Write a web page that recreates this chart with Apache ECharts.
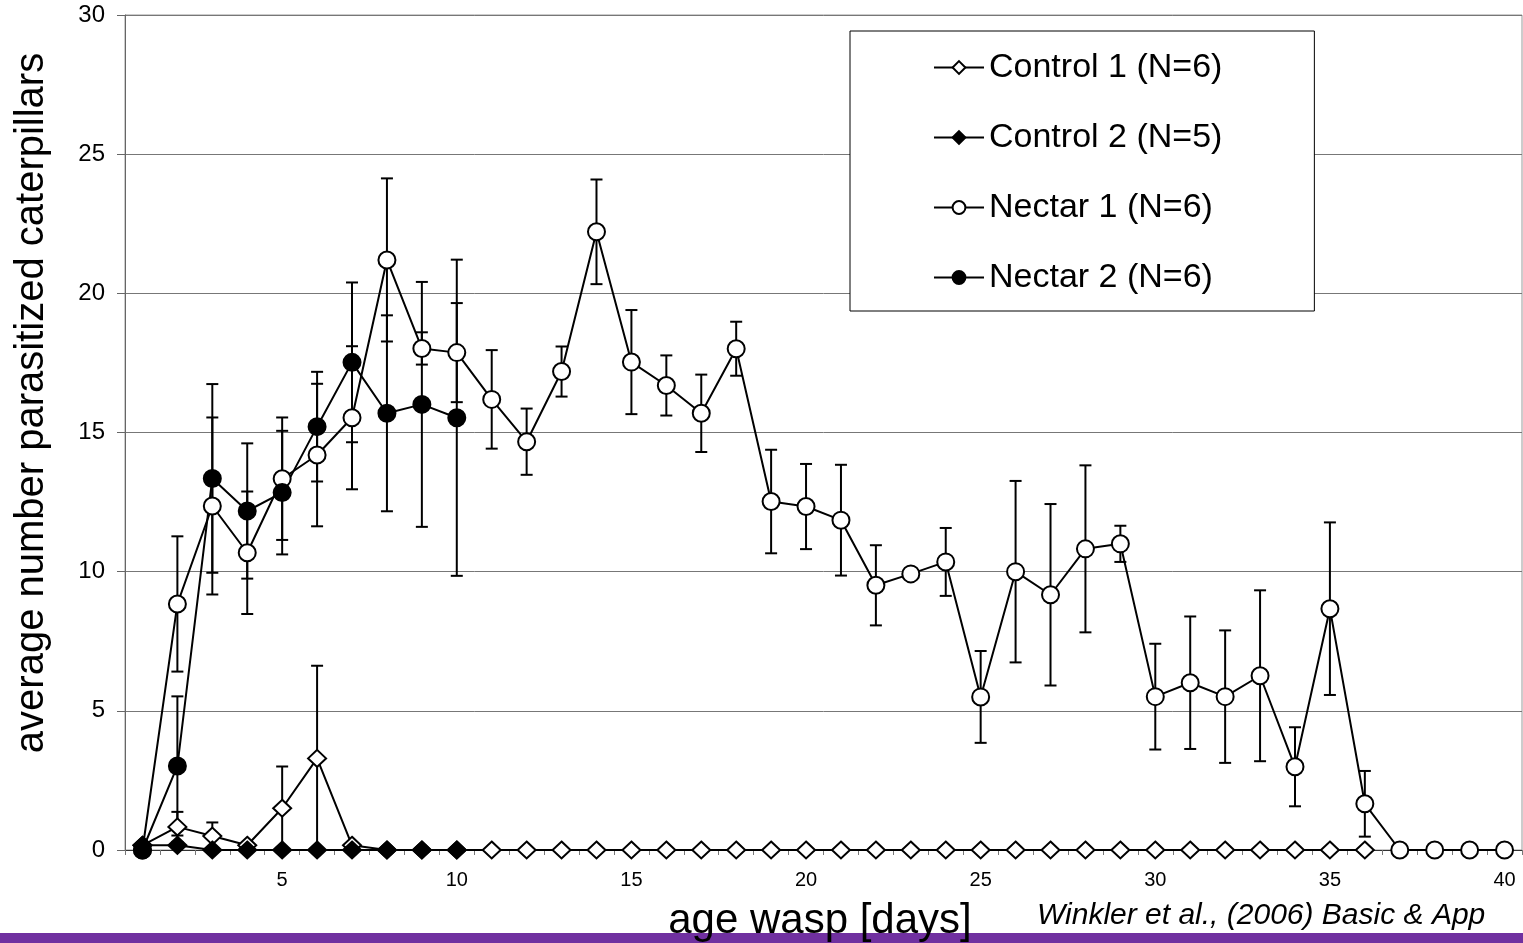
<!DOCTYPE html>
<html>
<head>
<meta charset="utf-8">
<title>age wasp</title>
<script src="https://cdn.jsdelivr.net/npm/echarts@6.0.0/dist/echarts.min.js"></script>
<style>
  html, body { margin: 0; padding: 0; background: #fff; }
  #main { width: 1523px; height: 943px; }
</style>
</head>
<body>
<div id="main"></div>
<script>
var days = ['1','2','3','4','5','6','7','8','9','10',
            '11','12','13','14','15','16','17','18','19','20',
            '21','22','23','24','25','26','27','28','29','30',
            '31','32','33','34','35','36','37','38','39','40'];

var control1 = [0.17, 0.83, 0.5, 0.17, 1.5, 3.29, 0.17, 0, 0, 0,
                0, 0, 0, 0, 0, 0, 0, 0, 0, 0,
                0, 0, 0, 0, 0, 0, 0, 0, 0, 0,
                0, 0, 0, 0, 0, 0, null, null, null, null];
var control1Err = [0, 0.54, 0.49, 0, 1.5, 3.33, 0, 0, 0, 0];

var control2 = [0.17, 0.17, 0, 0, 0, 0, 0, 0, 0, 0];
var control2Err = [0, 0, 0, 0, 0, 0, 0, 0, 0, 0];

var nectar1 = [0, 8.84, 12.36, 10.68, 13.34, 14.19, 15.53, 21.2, 18.02, 17.87,
               16.19, 14.67, 17.19, 22.21, 17.53, 16.69, 15.69, 18.01, 12.52, 12.34,
               11.85, 9.51, 9.92, 10.35, 5.5, 10.0, 9.17, 10.82, 11.0, 5.51,
               6.01, 5.51, 6.26, 2.99, 8.67, 1.66, 0, 0, 0, 0];
var nectar1Err = [0, 2.43, 3.18, 2.2, 2.2, 2.56, 2.57, 2.93, 0.58, 1.78,
                  1.77, 1.19, 0.9, 1.88, 1.87, 1.08, 1.39, 0.97, 1.86, 1.53,
                  1.99, 1.44, 0, 1.22, 1.65, 3.26, 3.26, 3.0, 0.65, 1.9,
                  2.38, 2.38, 3.07, 1.42, 3.1, 1.18, 0, 0, 0, 0];

var nectar2 = [0, 3.02, 13.35, 12.18, 12.84, 15.21, 17.52, 15.69, 16.01, 15.53];
var nectar2Err = [0, 2.5, 3.39, 2.43, 2.22, 1.97, 2.87, 3.52, 4.4, 5.68];

var seriesNames = ['Control 1 (N=6)', 'Control 2 (N=5)', 'Nectar 1 (N=6)', 'Nectar 2 (N=6)'];

var yTitle = 'average number parasitized caterpillars';
var xTitle = 'age wasp [days]';
var citation = 'Winkler et al., (2006) Basic & App';

var FONT = '"Liberation Sans", Arial, sans-serif';

// [index, low, high] for every point that has a bar
var errData = function (means, errs) {
    var res = [];
    for (var i = 0; i < errs.length; i++) {
        if (errs[i] > 0 && means[i] != null) {
            res.push([i, means[i] - errs[i], means[i] + errs[i]]);
        }
    }
    return res;
};

var renderErr = function (params, api) {
    var top = api.coord([api.value(0), api.value(2)]);
    var bot = api.coord([api.value(0), Math.max(0, api.value(1))]);
    var hw = 6;
    var st = { stroke: '#000', lineWidth: 2 };
    return {
        type: 'group',
        children: [
            { type: 'line', shape: { x1: top[0], y1: top[1], x2: bot[0], y2: bot[1] }, style: st },
            { type: 'line', shape: { x1: top[0] - hw, y1: top[1], x2: top[0] + hw, y2: top[1] }, style: st },
            { type: 'line', shape: { x1: bot[0] - hw, y1: bot[1], x2: bot[0] + hw, y2: bot[1] }, style: st }
        ]
    };
};

var errSeries = function (means, errs) {
    return {
        type: 'custom',
        renderItem: renderErr,
        data: errData(means, errs),
        encode: { x: 0, y: [1, 2] },
        silent: true,
        z: 1
    };
};

var lineSeries = function (name, data, symbol, size, fill) {
    return {
        name: name,
        type: 'line',
        data: data,
        symbol: symbol,
        symbolSize: size,
        showAllSymbol: true,
        lineStyle: { color: '#000', width: 2 },
        itemStyle: { color: fill, borderColor: '#000', borderWidth: 2 },
        z: 2
    };
};

var myChart = echarts.init(document.getElementById('main'));

var option = {
    animation: false,
    backgroundColor: '#fff',
    textStyle: { fontFamily: FONT },
    grid: {
        left: 125, right: 1, top: 15, bottom: 93,
        show: true, borderColor: '#999', borderWidth: 1
    },
    legend: {
        data: seriesNames,
        orient: 'vertical',
        left: 850, top: 31,
        padding: [19, 92, 16, 83],
        itemGap: 35,
        itemWidth: 50,
        itemHeight: 16,
        backgroundColor: '#fff',
        borderColor: '#000',
        borderWidth: 1,
        borderRadius: 0,
        textStyle: { fontSize: 34, lineHeight: 35, color: '#000', fontFamily: FONT }
    },
    xAxis: {
        type: 'category',
        data: days,
        boundaryGap: true,
        axisLine: { lineStyle: { color: '#333', width: 1 } },
        axisTick: { show: true, interval: 0, length: 5, lineStyle: { color: '#777' } },
        axisLabel: {
            interval: function (i) { return (i + 1) % 5 === 0; },
            fontSize: 20, color: '#000', margin: 20, fontFamily: FONT
        },
        splitLine: { show: false }
    },
    yAxis: {
        type: 'value',
        min: 0, max: 30, interval: 5,
        axisLine: { show: true, lineStyle: { color: '#666', width: 1 } },
        axisTick: { show: true, length: 8, lineStyle: { color: '#666' } },
        axisLabel: { fontSize: 24, color: '#000', margin: 20, fontFamily: FONT },
        splitLine: { lineStyle: { color: '#777', width: 1 } }
    },
    graphic: [
        {   // purple strip along the bottom
            type: 'rect', left: 0, top: 933, z: 10,
            shape: { width: 1523, height: 10 },
            style: { fill: '#7030a0' }
        },
        {
            type: 'text', x: 32, y: 403, rotation: Math.PI / 2, z: 11,
            style: { text: yTitle, fontSize: 40, fontFamily: FONT, fill: '#000',
                     align: 'center', verticalAlign: 'middle' }
        },
        {
            type: 'text', x: 820, y: 942, z: 11,
            style: { text: xTitle, fontSize: 42, fontFamily: FONT, fill: '#000',
                     align: 'center', verticalAlign: 'bottom' }
        },
        {
            type: 'text', x: 1037, y: 931, z: 11,
            style: { text: citation, fontSize: 30, fontStyle: 'italic', fontFamily: FONT,
                     fill: '#000', align: 'left', verticalAlign: 'bottom' }
        }
    ],
    series: [
        errSeries(control1, control1Err),
        errSeries(control2, control2Err),
        errSeries(nectar1, nectar1Err),
        errSeries(nectar2, nectar2Err),
        lineSeries(seriesNames[0], control1, 'diamond', [18, 17], '#fff'),
        lineSeries(seriesNames[1], control2, 'diamond', [18, 17], '#000'),
        lineSeries(seriesNames[2], nectar1, 'circle', 17, '#fff'),
        lineSeries(seriesNames[3], nectar2, 'circle', 17, '#000')
    ]
};

myChart.setOption(option);
</script>
</body>
</html>
